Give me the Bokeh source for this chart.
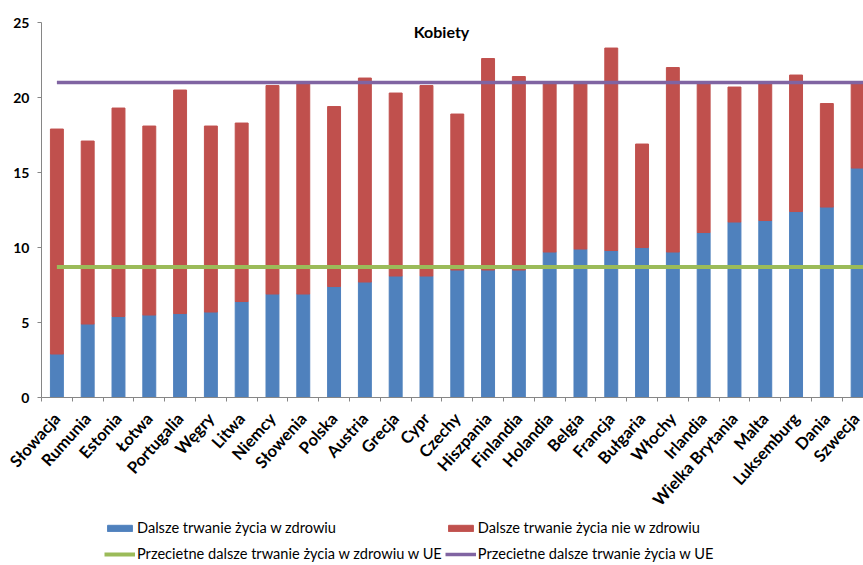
import math

from bokeh.plotting import figure
from bokeh.models import ColumnDataSource, Range1d, FixedTicker, Legend, LegendItem, Label
from bokeh.embed import file_html
from bokeh.resources import INLINE

# Remaining life expectancy of women (years), by EU country
countries = ["Słowacja", "Rumunia", "Estonia", "Łotwa", "Portugalia", "Węgry", "Litwa",
             "Niemcy", "Słowenia", "Polska", "Austria", "Grecja", "Cypr", "Czechy",
             "Hiszpania", "Finlandia", "Holandia", "Belgia", "Francja", "Bułgaria",
             "Włochy", "Irlandia", "Wielka Brytania", "Malta", "Luksemburg", "Dania",
             "Szwecja"]
healthy = [2.9, 4.9, 5.4, 5.5, 5.6, 5.7, 6.4, 6.9, 6.9, 7.4, 7.7, 8.1, 8.1, 8.5,
           8.5, 8.5, 9.7, 9.9, 9.8, 10.0, 9.7, 11.0, 11.7, 11.8, 12.4, 12.7, 15.3]
unhealthy = [15.0, 12.2, 13.9, 12.6, 14.9, 12.4, 11.9, 13.9, 14.0, 12.0, 13.6, 12.2,
             12.7, 10.4, 14.1, 12.9, 11.2, 11.0, 13.5, 6.9, 12.3, 9.9, 9.0, 9.1, 9.1,
             6.9, 5.6]
eu_healthy = 8.7
eu_total = 21.0
y_ticks = [0, 5, 10, 15, 20, 25]

BLUE = "#4F81BD"
RED = "#C0504D"
GREEN = "#9BBB59"
PURPLE = "#8064A2"
AXIS = "#868686"
FONT = "Lato"

n = len(countries)
xs = list(range(n))
src = ColumnDataSource(dict(x=xs, healthy=healthy, unhealthy=unhealthy))

# The frame fills the whole canvas; both axes are pinned inside it (x at y=0,
# y at the left edge of the first category) so labels and legend are not clipped.
p = figure(width=863, height=565, output_backend="svg", toolbar_location=None,
           x_range=Range1d(-1.831, 26.19), y_range=Range1d(-11.2, 26.47),
           min_border_left=0, min_border_right=0, min_border_top=0,
           min_border_bottom=0)
p.outline_line_color = None
p.xgrid.visible = False
p.ygrid.visible = False
p.background_fill_color = "white"
p.border_fill_color = "white"

bars = p.vbar_stack(["healthy", "unhealthy"], x="x", width=0.42, color=[BLUE, RED],
                    source=src)

line_x = [0, n]
g_line = p.line(x=line_x, y=[eu_healthy, eu_healthy], line_color=GREEN, line_width=4)
v_line = p.line(x=line_x, y=[eu_total, eu_total], line_color=PURPLE, line_width=3.5)

# category axis, pinned at zero
xa = p.xaxis[0]
xa.fixed_location = 0
xa.bounds = (-0.5, n)
xa.ticker = FixedTicker(ticks=xs, minor_ticks=[i + 0.5 for i in range(-1, n)])
xa.major_label_overrides = {i: c for i, c in enumerate(countries)}
xa.major_label_orientation = 0.84
xa.major_tick_out = 0
xa.major_tick_in = 0
xa.minor_tick_out = 4
xa.minor_tick_in = 0
xa.major_label_standoff = 14
xa.axis_line_color = AXIS
xa.minor_tick_line_color = AXIS
xa.major_label_text_font = FONT
xa.major_label_text_font_style = "bold"
xa.major_label_text_font_size = "16.5px"
xa.major_label_text_color = "black"

# value axis, pinned at the left edge of the first category
ya = p.yaxis[0]
ya.fixed_location = -0.5
ya.bounds = (0, 25)
ya.ticker = FixedTicker(ticks=y_ticks)
ya.minor_tick_out = 0
ya.minor_tick_in = 0
ya.major_tick_out = 4
ya.major_tick_in = 0
ya.major_label_standoff = 8
ya.axis_line_color = AXIS
ya.major_tick_line_color = AXIS
ya.major_label_text_font = FONT
ya.major_label_text_font_style = "bold"
ya.major_label_text_font_size = "14px"
ya.major_label_text_color = "black"

p.add_layout(Label(x=441, y=534, x_units="screen", y_units="screen", text="Kobiety",
                   text_align="center", text_baseline="middle", text_font=FONT,
                   text_font_style="bold", text_font_size="16px", text_color="black"))

legend = Legend(items=[
    LegendItem(label="Dalsze trwanie życia w zdrowiu", renderers=[bars[0]]),
    LegendItem(label="Dalsze trwanie życia nie w zdrowiu", renderers=[bars[1]]),
    LegendItem(label="Przecietne dalsze trwanie życia w zdrowiu w UE", renderers=[g_line]),
    LegendItem(label="Przecietne dalsze trwanie życia w UE", renderers=[v_line]),
], location=(104, 0), orientation="horizontal", ncols=2)
legend.padding = 0
legend.margin = 0
legend.spacing = 3
legend.glyph_width = 31
legend.glyph_height = 8
legend.label_standoff = 2
legend.label_height = 23
legend.label_text_font = FONT
legend.label_text_font_size = "14.6px"
legend.label_text_color = "black"
legend.border_line_color = None
legend.background_fill_alpha = 0
p.add_layout(legend)

open("out.html", "w").write(file_html(p, INLINE))
